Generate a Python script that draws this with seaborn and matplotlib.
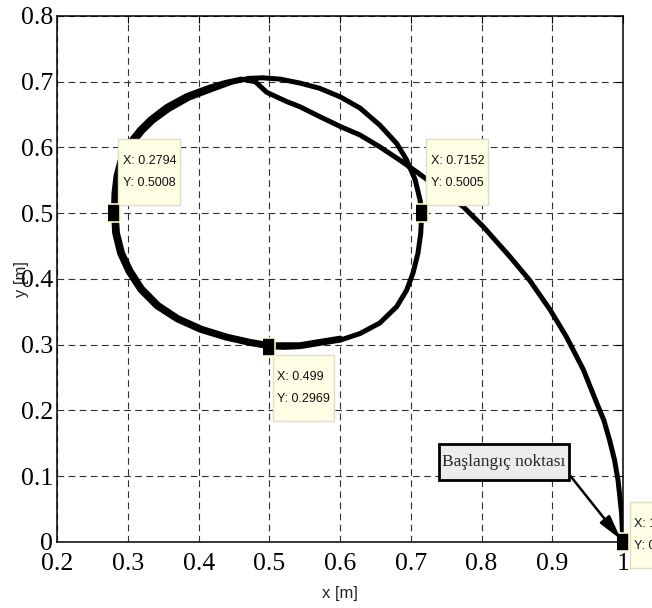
import matplotlib
matplotlib.use("Agg")
import matplotlib.pyplot as plt
from matplotlib.path import Path
import seaborn as sns
import pandas as pd

# Robot end-effector path: approach from the start point at (1, 0)
approach_x = [1.000, 0.999, 0.998, 0.993, 0.988, 0.981, 0.973, 0.963, 0.944, 0.920,
              0.897, 0.868, 0.840, 0.802, 0.774, 0.746, 0.727, 0.708, 0.684, 0.656,
              0.628, 0.600, 0.571, 0.543, 0.524, 0.496, 0.480]
approach_y = [0.000, 0.020, 0.044, 0.094, 0.125, 0.155, 0.185, 0.211, 0.262, 0.312,
              0.353, 0.398, 0.434, 0.480, 0.510, 0.532, 0.548, 0.563, 0.581, 0.601,
              0.619, 0.632, 0.647, 0.662, 0.670, 0.684, 0.700]
# First full loop (top -> left -> bottom -> right -> top)
loop1_x = [0.460, 0.438, 0.416, 0.383, 0.354, 0.331, 0.316, 0.305, 0.295, 0.288,
           0.283, 0.280, 0.2794, 0.281, 0.288, 0.300, 0.317, 0.340, 0.369, 0.402,
           0.439, 0.472, 0.499, 0.520, 0.543, 0.571, 0.600, 0.628, 0.656, 0.680,
           0.694, 0.703, 0.710, 0.714, 0.7152, 0.713, 0.706, 0.694, 0.680, 0.656,
           0.628, 0.600, 0.571, 0.543, 0.515, 0.490, 0.470]
loop1_y = [0.704, 0.699, 0.692, 0.679, 0.662, 0.643, 0.627, 0.612, 0.596, 0.578,
           0.557, 0.530, 0.5008, 0.470, 0.439, 0.411, 0.383, 0.358, 0.338, 0.322,
           0.310, 0.302, 0.2969, 0.296, 0.297, 0.302, 0.307, 0.317, 0.333, 0.358,
           0.383, 0.409, 0.439, 0.470, 0.5005, 0.520, 0.551, 0.581, 0.606, 0.634,
           0.660, 0.677, 0.690, 0.698, 0.704, 0.706, 0.705]
# Second, partial loop running just inside the first one
loop2_x = [0.446, 0.418, 0.386, 0.358, 0.335, 0.320, 0.309, 0.299, 0.292, 0.287,
           0.284, 0.283, 0.285, 0.292, 0.304, 0.320, 0.343, 0.371, 0.404, 0.440,
           0.473, 0.500, 0.543, 0.571, 0.600]
loop2_y = [0.699, 0.688, 0.675, 0.658, 0.640, 0.624, 0.609, 0.593, 0.575, 0.555,
           0.528, 0.500, 0.470, 0.440, 0.413, 0.386, 0.361, 0.341, 0.325, 0.313,
           0.305, 0.300, 0.300, 0.305, 0.310]

path_x = approach_x + loop1_x + loop2_x
path_y = approach_y + loop1_y + loop2_y

# Data tips marked on the path
tip_x = [0.2794, 0.7152, 0.499, 1.0]
tip_y = [0.5008, 0.5005, 0.2969, 0.0]
tip_labels = ["X: 0.2794\nY: 0.5008", "X: 0.7152\nY: 0.5005",
              "X: 0.499\nY: 0.2969", "X: 1\nY: 0"]

x_ticks = [0.2, 0.3, 0.4, 0.5, 0.6, 0.7, 0.8, 0.9, 1.0]
x_tick_labels = ["0.2", "0.3", "0.4", "0.5", "0.6", "0.7", "0.8", "0.9", "1"]
y_ticks = [0, 0.1, 0.2, 0.3, 0.4, 0.5, 0.6, 0.7, 0.8]
y_tick_labels = ["0", "0.1", "0.2", "0.3", "0.4", "0.5", "0.6", "0.7", "0.8"]

start_label = "Başlangıç noktası"


class RectPad:
    """Rectangular box style with separate horizontal and vertical padding."""

    def __init__(self, padx, pady):
        self.padx = padx
        self.pady = pady

    def __call__(self, x0, y0, width, height, mutation_size):
        px = self.padx * mutation_size
        py = self.pady * mutation_size
        verts = [(x0 - px, y0 - py), (x0 + width + px, y0 - py),
                 (x0 + width + px, y0 + height + py), (x0 - px, y0 + height + py),
                 (x0 - px, y0 - py)]
        return Path(verts, closed=True)


sns.set_theme(style="white")
plt.rcParams["font.family"] = ["Liberation Serif", "DejaVu Serif"]
sans = ["Liberation Sans", "DejaVu Sans"]

fig = plt.figure(figsize=(6.52, 6.08), dpi=100)
ax = fig.add_axes([0.088, 0.1086, 0.8675, 0.8651])

df = pd.DataFrame({"x": path_x, "y": path_y})
sns.lineplot(data=df, x="x", y="y", sort=False, estimator=None,
             color="black", linewidth=3.6, ax=ax)
for line in ax.lines:
    line.set_solid_joinstyle("round")
    line.set_solid_capstyle("round")

ax.set_xlim(0.2, 1.0)
ax.set_ylim(0.0, 0.8)
ax.set_xticks(x_ticks)
ax.set_xticklabels(x_tick_labels)
ax.set_yticks(y_ticks)
ax.set_yticklabels(y_tick_labels)
ax.tick_params(axis="both", direction="in", length=5, width=0.8, color="black",
               labelsize=18.5, top=True, right=True, labelcolor="black")
ax.tick_params(axis="x", pad=8)
ax.tick_params(axis="y", pad=3)
ax.grid(True, color="#303030", linestyle=(0, (6, 4)), linewidth=0.8)
for s in ax.spines.values():
    s.set_color("black")
    s.set_linewidth(1.1)

ax.set_xlabel("x [m]", fontsize=12, family=sans, labelpad=8)
ax.set_ylabel("y [m]", fontsize=12, family=sans, labelpad=-6)

# Data tip markers and boxes
marker_shape = [(-0.62, -1), (0.62, -1), (0.62, 1), (-0.62, 1)]
offsets = [(9, 24, "left", "bottom"), (9, 24, "left", "bottom"),
           (8, -24, "left", "top"), (11, 24, "left", "top")]
for (tx, ty, lab, (dx, dy, ha, va)) in zip(tip_x, tip_y, tip_labels, offsets):
    ax.annotate(lab, xy=(tx, ty), xytext=(dx, dy), textcoords="offset pixels",
                ha=ha, va=va, fontsize=9, family=sans, linespacing=2.1,
                color="#111111",
                bbox=dict(boxstyle=RectPad(0.34, 1.3), facecolor="#ffffe6",
                          edgecolor="#deddc6", linewidth=1.0),
                annotation_clip=False, zorder=6)
ax.scatter(tip_x, tip_y, marker=marker_shape, s=170, c="black",
           edgecolors="#fbf7c0", linewidths=1.2, zorder=7, clip_on=False)

# Start point annotation
ax.annotate(start_label, xy=(1.0, 0.0), xytext=(0.8316, 0.1217),
            ha="center", va="center", fontsize=12.5,
            bbox=dict(boxstyle=RectPad(0.2, 0.6), facecolor="#ececec",
                      edgecolor="black", linewidth=2.0),
            arrowprops=dict(arrowstyle="-|>,head_length=1.2,head_width=0.3",
                            color="black", linewidth=1.8, relpos=(1.0, 0.0),
                            shrinkA=0, shrinkB=2),
            annotation_clip=False, zorder=8)

fig.savefig("out.png", dpi=100)
